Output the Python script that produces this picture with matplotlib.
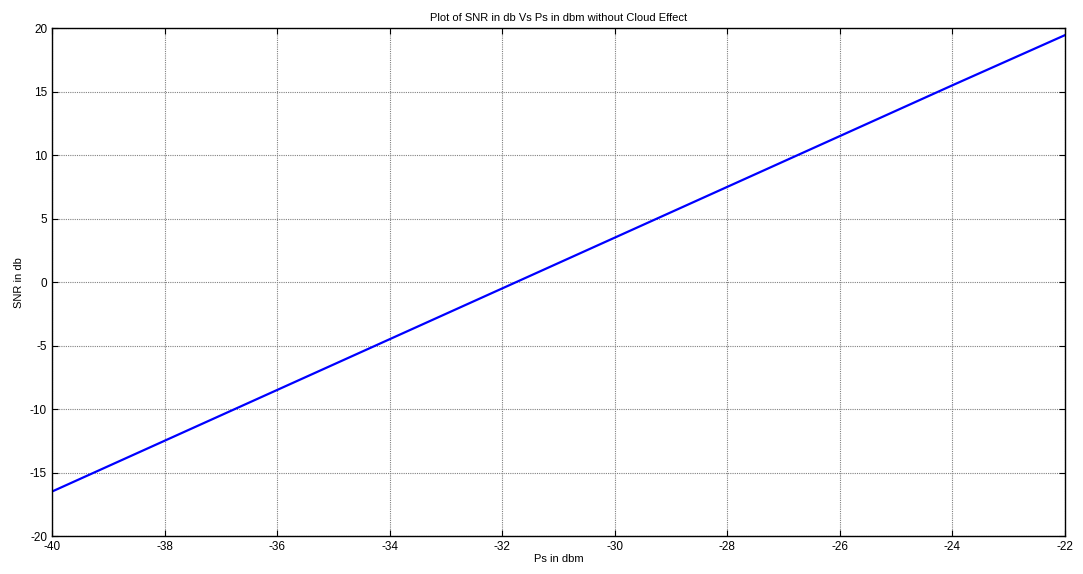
import matplotlib
matplotlib.use("Agg")
import matplotlib.pyplot as plt

ps_dbm = [-40, -38, -36, -34, -32, -30, -28, -26, -24, -22]
snr_db = [-16.5, -12.5, -8.5, -4.5, -0.5, 3.5, 7.5, 11.5, 15.5, 19.45]
x_ticks = [-40, -38, -36, -34, -32, -30, -28, -26, -24, -22]
y_ticks = [-20, -15, -10, -5, 0, 5, 10, 15, 20]

plt.rcParams['font.family'] = ['Liberation Sans', 'DejaVu Sans']
plt.rcParams['axes.unicode_minus'] = False

fig = plt.figure(figsize=(10.83, 5.74), dpi=100)
ax = fig.add_axes([0.048, 0.0662, 0.9354, 0.8848])
ax.plot(ps_dbm, snr_db, color='#0000ff', linewidth=1.6)
ax.set_xlim(-40, -22)
ax.set_ylim(-20, 20)
ax.set_xticks(x_ticks)
ax.set_yticks(y_ticks)
ax.grid(True, color='#808080', linestyle=(0, (1, 1)), linewidth=0.8)
ax.tick_params(direction='in', top=True, right=True, labelsize=8.5, length=4, width=0.8)
for s in ax.spines.values():
    s.set_linewidth(1.0)
ax.set_title('Plot of SNR in db Vs Ps in dbm without Cloud Effect', fontsize=8, pad=5)
ax.set_xlabel('Ps in dbm', fontsize=8, labelpad=1)
ax.set_ylabel('SNR in db', fontsize=8, labelpad=4)
fig.savefig('out.png', dpi=100)
